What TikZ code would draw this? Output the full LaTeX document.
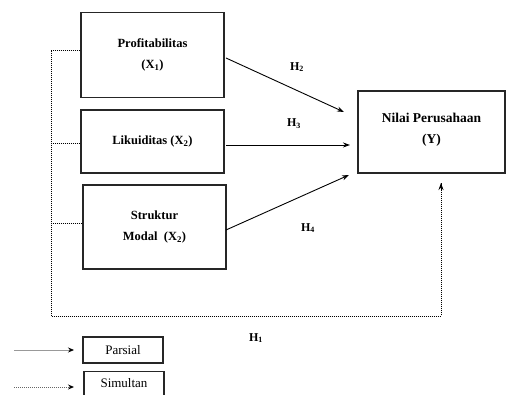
\documentclass[tikz,border=0pt]{standalone}
\usepackage{fontspec}
\setmainfont{Liberation Serif}
\usetikzlibrary{arrows.meta}
\begin{document}
\begin{tikzpicture}[x=1pt,y=-1pt,
  vbox/.style={draw=black!85,line width=1.3pt,inner sep=0pt,align=center,font=\bfseries\fontsize{12.5}{21}\selectfont},
  hlab/.style={font=\bfseries\fontsize{12}{12}\selectfont,inner sep=0pt},
  arr/.style={line width=0.9pt,-{Stealth[length=7pt,width=5pt]}},
  dots/.style={line width=0.9pt,dash pattern=on 0.9pt off 1.1pt},
  legbox/.style={draw=black!85,line width=1.2pt,inner sep=0pt,font=\fontsize{13}{14}\selectfont}]
\clip (0,0) rectangle (507,395);
\fill[white] (0,0) rectangle (507,395);
\node[vbox,minimum width=143pt,minimum height=85pt] (b1) at (152.5,55) {Profitabilitas\\(X\textsubscript{1})};
\node[vbox,minimum width=143pt,minimum height=63pt] (b2) at (152.5,141.5) {Likuiditas (X\textsubscript{2})};
\node[vbox,minimum width=143pt,minimum height=84pt] (b3) at (154.5,227) {Struktur\\Modal\ \ (X\textsubscript{2})};
\node[vbox,minimum width=147pt,minimum height=82pt,text depth=8pt,font=\bfseries\fontsize{13.5}{21}\selectfont] (y) at (431.5,132) {Nilai Perusahaan\\(Y)};
% partial arrows
\coordinate (s1) at (226,58);
\coordinate (e1) at (344,112);
\coordinate (s2) at (226,145);
\coordinate (e2) at (350,145);
\coordinate (s3) at (226,230);
\coordinate (e3) at (349,175);
\draw[arr] (s1) -- (e1);
\draw[arr] (s2) -- (e2);
\draw[arr] (s3) -- (e3);
\node[hlab] (h2) at (297,67) {H\textsubscript{2}};
\node[hlab] (h3) at (294,124) {H\textsubscript{3}};
\node[hlab] (h4) at (308,228) {H\textsubscript{4}};
\node[hlab] (h1) at (256,338) {H\textsubscript{1}};
% simultaneous dotted
\coordinate (d1) at (51,50);
\coordinate (d2) at (51,143);
\coordinate (d3) at (51,223);
\coordinate (dc) at (51,316);
\coordinate (dr) at (441,316);
\coordinate (dt) at (441,183);
\draw[dots] (b1.west |- d1) -- (d1) -- (dc) -- (dr) -- (dt);
\draw[dots] (b2.west |- d2) -- (d2);
\draw[dots] (b3.west |- d3) -- (d3);
\draw[line width=0.9pt,-{Stealth[length=7pt,width=5pt]}] (441,190) -- (dt);
% legend
\node[legbox,minimum width=80pt,minimum height=26pt] (lp) at (123,350) {Parsial};
\node[legbox,minimum width=80pt,minimum height=30pt,anchor=north] (ls) at (124,371) {};
\node[inner sep=0pt,font=\fontsize{13}{14}\selectfont] (lst) at (124,383) {Simultan};
\coordinate (l1a) at (14,350);
\coordinate (l2a) at (14,387);
\draw[black!40,line width=0.8pt,-{Stealth[length=6pt,width=5pt,black]}] (l1a) -- (74,350);
\draw[dots,black!60,-{Stealth[length=6pt,width=5pt,black]}] (l2a) -- (74,387);
\end{tikzpicture}
\end{document}
